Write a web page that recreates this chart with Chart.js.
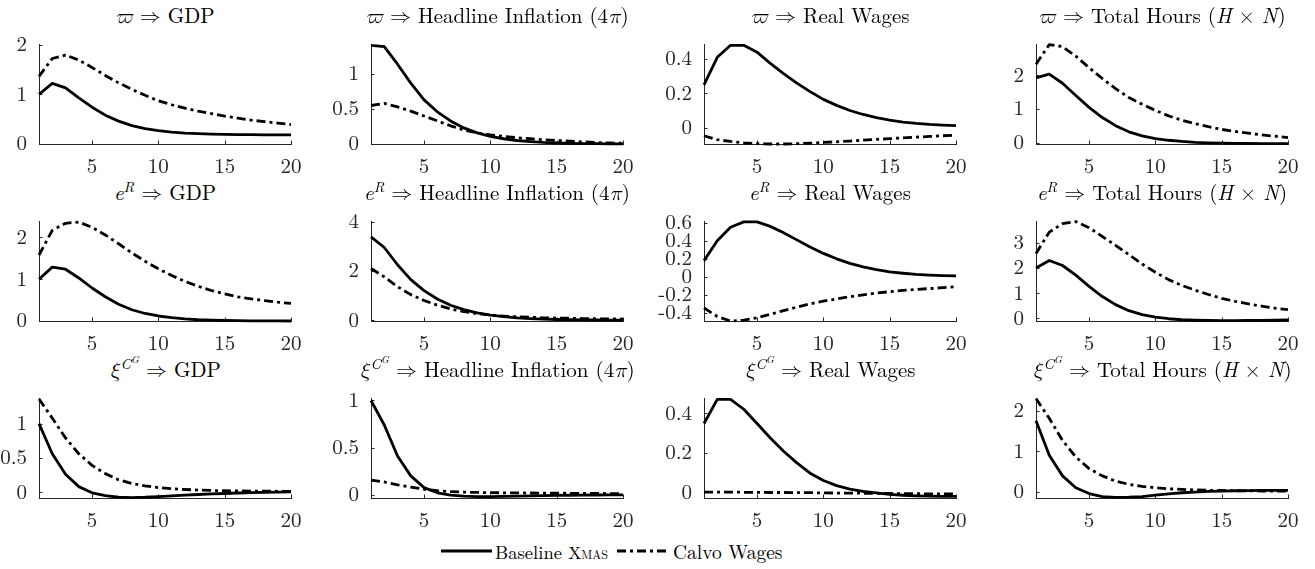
<!DOCTYPE html>
<html><head><meta charset="utf-8">
<script src="https://cdn.jsdelivr.net/npm/chart.js@4.4.0/dist/chart.umd.min.js"></script>
<style>
html,body{margin:0;padding:0;background:#fff;}
body{width:1315px;height:569px;position:relative;overflow:hidden;font-family:"Latin Modern Roman","Latin Modern Math","Liberation Serif",serif;color:#000;}
.ttl{position:absolute;width:400px;font-size:21px;line-height:24px;white-space:nowrap;text-align:center;}
.ttl sup{font-size:70%;vertical-align:0;position:relative;top:-0.55em;line-height:0;}
.lg{position:absolute;top:538px;height:26px;line-height:26px;font-size:19.5px;white-space:nowrap;}
.lg svg{display:block;margin-top:8px;}
.sc{font-variant:small-caps;font-size:0.94em;}
</style>
</head><body>
<div class="lg" style="left:441px"><svg width="51" height="10"><line x1="0" y1="5" x2="51" y2="5" stroke="#000" stroke-width="2.8"/></svg></div>
<div class="lg" style="left:495px;font-size:18.6px">Baseline <span class="sc">Xmas</span></div>
<div class="lg" style="left:617px"><svg width="52" height="10"><line x1="0" y1="5" x2="52" y2="5" stroke="#000" stroke-width="2.8" stroke-dasharray="9 4 3 4"/></svg></div>
<div class="lg" style="left:673px">Calvo Wages</div>
<script>
// ---- data ----
const periods = [1,2,3,4,5,6,7,8,9,10,11,12,13,14,15,16,17,18,19,20];
const xTickValues = [5,10,15,20];

// shock: varpi
const varpiGdpBase   = [1.00,1.22,1.13,0.93,0.74,0.58,0.46,0.37,0.31,0.27,0.24,0.22,0.21,0.20,0.195,0.19,0.19,0.185,0.185,0.185];
const varpiGdpCalvo  = [1.36,1.72,1.79,1.69,1.54,1.38,1.23,1.10,0.98,0.87,0.79,0.72,0.66,0.61,0.56,0.52,0.48,0.45,0.42,0.39];
const varpiInfBase   = [1.41,1.39,1.14,0.87,0.63,0.46,0.33,0.23,0.16,0.11,0.075,0.05,0.035,0.022,0.014,0.009,0.006,0.004,0.002,0.001];
const varpiInfCalvo  = [0.55,0.58,0.53,0.47,0.40,0.33,0.26,0.20,0.16,0.13,0.11,0.09,0.075,0.06,0.05,0.04,0.03,0.022,0.015,0.01];
const varpiWageBase  = [0.25,0.41,0.48,0.48,0.44,0.375,0.315,0.26,0.21,0.165,0.13,0.10,0.077,0.058,0.044,0.033,0.025,0.019,0.015,0.012];
const varpiWageCalvo = [-0.047,-0.07,-0.08,-0.088,-0.093,-0.095,-0.095,-0.093,-0.09,-0.086,-0.082,-0.078,-0.073,-0.068,-0.064,-0.059,-0.055,-0.051,-0.047,-0.043];
const varpiHrsBase   = [1.92,2.03,1.76,1.40,1.05,0.75,0.51,0.33,0.21,0.13,0.08,0.045,0.02,0.005,-0.005,-0.01,-0.015,-0.02,-0.02,-0.02];
const varpiHrsCalvo  = [2.32,2.90,2.84,2.56,2.22,1.90,1.60,1.34,1.14,0.96,0.80,0.67,0.57,0.48,0.40,0.34,0.29,0.24,0.20,0.16];

// shock: e^R
const eRGdpBase   = [1.00,1.29,1.24,1.03,0.79,0.58,0.40,0.27,0.18,0.12,0.08,0.05,0.03,0.02,0.012,0.007,0.004,0.002,0.001,0.0];
const eRGdpCalvo  = [1.58,2.17,2.34,2.37,2.24,2.06,1.85,1.63,1.43,1.25,1.09,0.95,0.83,0.73,0.65,0.58,0.53,0.49,0.45,0.42];
const eRInfBase   = [3.38,2.95,2.25,1.65,1.20,0.86,0.61,0.43,0.30,0.21,0.15,0.10,0.07,0.05,0.03,0.02,0.015,0.01,0.005,0.0];
const eRInfCalvo  = [2.10,1.76,1.36,1.04,0.80,0.61,0.46,0.35,0.27,0.21,0.17,0.14,0.12,0.10,0.09,0.08,0.07,0.06,0.06,0.05];
const eRWageBase  = [0.18,0.40,0.55,0.61,0.61,0.56,0.49,0.41,0.33,0.26,0.20,0.15,0.11,0.08,0.055,0.04,0.028,0.02,0.014,0.01];
const eRWageCalvo = [-0.345,-0.44,-0.49,-0.48,-0.455,-0.415,-0.375,-0.335,-0.30,-0.27,-0.245,-0.22,-0.20,-0.18,-0.165,-0.15,-0.14,-0.13,-0.12,-0.11];
const eRHrsBase   = [2.00,2.30,2.10,1.72,1.27,0.87,0.55,0.31,0.15,0.05,-0.01,-0.05,-0.07,-0.08,-0.085,-0.085,-0.08,-0.075,-0.07,-0.06];
const eRHrsCalvo  = [2.58,3.42,3.76,3.84,3.60,3.25,2.90,2.53,2.16,1.83,1.54,1.31,1.12,0.95,0.80,0.68,0.58,0.49,0.41,0.35];

// shock: xi^{C^G}
const xiGdpBase   = [1.00,0.56,0.26,0.08,-0.01,-0.05,-0.075,-0.08,-0.075,-0.065,-0.055,-0.045,-0.035,-0.027,-0.02,-0.013,-0.008,-0.004,0.0,0.002];
const xiGdpCalvo  = [1.36,1.08,0.79,0.56,0.39,0.27,0.18,0.125,0.09,0.065,0.05,0.038,0.03,0.024,0.02,0.017,0.015,0.013,0.012,0.011];
const xiInfBase   = [1.00,0.74,0.41,0.20,0.075,0.02,-0.005,-0.015,-0.02,-0.02,-0.018,-0.015,-0.012,-0.01,-0.008,-0.006,-0.004,-0.003,-0.002,-0.001];
const xiInfCalvo  = [0.155,0.135,0.105,0.08,0.058,0.042,0.033,0.027,0.024,0.022,0.02,0.019,0.018,0.017,0.016,0.015,0.014,0.013,0.012,0.011];
const xiWageBase  = [0.348,0.47,0.47,0.42,0.348,0.274,0.207,0.148,0.096,0.059,0.033,0.015,0.003,-0.004,-0.012,-0.016,-0.019,-0.021,-0.022,-0.022];
const xiWageCalvo = [0.0,0.0,0.0,-0.001,-0.001,-0.002,-0.002,-0.003,-0.003,-0.004,-0.005,-0.005,-0.006,-0.007,-0.007,-0.008,-0.008,-0.009,-0.009,-0.01];
const xiHrsBase   = [1.76,0.90,0.39,0.095,-0.05,-0.125,-0.146,-0.14,-0.125,-0.09,-0.055,-0.03,-0.012,0.003,0.013,0.02,0.025,0.028,0.03,0.03];
const xiHrsCalvo  = [2.31,1.82,1.27,0.86,0.57,0.39,0.26,0.18,0.13,0.095,0.07,0.052,0.04,0.032,0.026,0.021,0.017,0.014,0.012,0.01];

// y tick labels per panel
const yt012 = [0,1,2];
const yt0051 = [0,0.5,1];
const yt024 = [0,0.2,0.4];
const yt0_2_4 = [0,2,4];
const ytWide = [-0.4,-0.2,0,0.2,0.4,0.6];
const yt0123 = [0,1,2,3];

const varpiT = '<i>ϖ</i> ⇒ ';
const eRT = '<i>e</i><sup><i>R</i></sup> ⇒ ';
const xiT = '<i>ξ</i><sup><i>C</i><sup><i>G</i></sup></sup> ⇒ ';
const gdpT = 'GDP', infT = 'Headline Inflation (4<i>π</i>)', wageT = 'Real Wages', hrsT = 'Total Hours (<i>H</i> × <i>N</i>)';

const panels = [
  {t: varpiT+gdpT,  base: varpiGdpBase,  calvo: varpiGdpCalvo,  yMin: 0,      yMax: 2,     yt: yt012},
  {t: varpiT+infT,  base: varpiInfBase,  calvo: varpiInfCalvo,  yMin: 0,      yMax: 1.42,  yt: yt0051},
  {t: varpiT+wageT, base: varpiWageBase, calvo: varpiWageCalvo, yMin: -0.095, yMax: 0.484, yt: yt024},
  {t: varpiT+hrsT,  base: varpiHrsBase,  calvo: varpiHrsCalvo,  yMin: -0.03,  yMax: 2.9,   yt: yt012},
  {t: eRT+gdpT,  base: eRGdpBase,  calvo: eRGdpCalvo,  yMin: 0,     yMax: 2.38,  yt: yt012},
  {t: eRT+infT,  base: eRInfBase,  calvo: eRInfCalvo,  yMin: -0.03, yMax: 4,     yt: yt0_2_4},
  {t: eRT+wageT, base: eRWageBase, calvo: eRWageCalvo, yMin: -0.49, yMax: 0.613, yt: ytWide},
  {t: eRT+hrsT,  base: eRHrsBase,  calvo: eRHrsCalvo,  yMin: -0.1,  yMax: 3.84,  yt: yt0123},
  {t: xiT+gdpT,  base: xiGdpBase,  calvo: xiGdpCalvo,  yMin: -0.086, yMax: 1.365, yt: yt0051},
  {t: xiT+infT,  base: xiInfBase,  calvo: xiInfCalvo,  yMin: -0.035, yMax: 1.02,  yt: yt0051},
  {t: xiT+wageT, base: xiWageBase, calvo: xiWageCalvo, yMin: -0.03,  yMax: 0.474, yt: yt024},
  {t: xiT+hrsT,  base: xiHrsBase,  calvo: xiHrsCalvo,  yMin: -0.16,  yMax: 2.31,  yt: yt012}
];

// ---- layout ----
const COL_L = [39, 371, 704, 1036];
const ROW_T = [32, 209, 386];
const PW = 252, PH = 112;
const YAX = 56, XAX = 30, PADT = 4, PADR = 16, TL = 3.5;
const AX = '#262626';
const FONT = {family: '"Latin Modern Roman", "Liberation Serif", serif', size: 21};

const inwardTicks = {
  id: 'inwardTicks',
  beforeDatasetsDraw(chart) {
    const {ctx, chartArea: a, scales: {x, y}} = chart;
    ctx.save();
    ctx.strokeStyle = AX; ctx.lineWidth = 1;
    ctx.beginPath();
    x.ticks.forEach(t => { const px = Math.round(x.getPixelForValue(t.value)) + 0.5; ctx.moveTo(px, a.bottom); ctx.lineTo(px, a.bottom - TL); });
    y.ticks.forEach(t => { const py = Math.round(y.getPixelForValue(t.value)) + 0.5; ctx.moveTo(a.left, py); ctx.lineTo(a.left + TL, py); });
    ctx.stroke();
    ctx.restore();
  }
};

panels.forEach((p, i) => {
  const r = Math.floor(i / 4), c = i % 4;
  const L = COL_L[c], T = ROW_T[r];

  const ttl = document.createElement('div');
  ttl.className = 'ttl';
  ttl.innerHTML = p.t;
  ttl.style.left = (L + PW / 2 - 200) + 'px';
  ttl.style.top = (T - 30) + 'px';
  document.body.appendChild(ttl);

  const cw = YAX + PW + PADR, ch = PADT + PH + XAX;
  const cv = document.createElement('canvas');
  cv.width = cw; cv.height = ch;
  cv.style.cssText = `position:absolute;left:${L - YAX}px;top:${T - PADT}px;width:${cw}px;height:${ch}px;`;
  document.body.appendChild(cv);

  const line = (vals, dash) => ({
    data: periods.map((x, k) => ({x, y: vals[k]})),
    borderColor: '#000', borderWidth: 2.8, borderDash: dash,
    pointRadius: 0, tension: 0, fill: false, clip: false,
    borderCapStyle: 'butt', borderJoinStyle: 'round'
  });

  new Chart(cv, {
    type: 'line',
    data: {datasets: [
      Object.assign(line(p.base, []), {label: 'Baseline Xmas'}),
      Object.assign(line(p.calvo, [9, 4, 3, 4]), {label: 'Calvo Wages'})
    ]},
    options: {
      responsive: false, animation: false, devicePixelRatio: 1,
      layout: {padding: {top: PADT, right: PADR, left: 0, bottom: 0}},
      plugins: {legend: {display: false}, tooltip: {enabled: false}},
      scales: {
        x: {
          type: 'linear', min: 1, max: 20,
          grid: {display: false}, border: {display: true, color: AX, width: 1},
          afterBuildTicks: a => { a.ticks = xTickValues.map(v => ({value: v})); },
          afterFit: a => { a.height = XAX; },
          ticks: {color: AX, font: FONT, padding: 2, maxRotation: 0, autoSkip: false, callback: v => String(v)}
        },
        y: {
          type: 'linear', min: p.yMin, max: p.yMax,
          grid: {display: false}, border: {display: true, color: AX, width: 1},
          afterBuildTicks: a => { a.ticks = p.yt.map(v => ({value: v})); },
          afterFit: a => { a.width = YAX; },
          ticks: {color: AX, font: FONT, padding: 4, autoSkip: false, callback: v => String(v)}
        }
      }
    },
    plugins: [inwardTicks]
  });
});
</script>
</body></html>
